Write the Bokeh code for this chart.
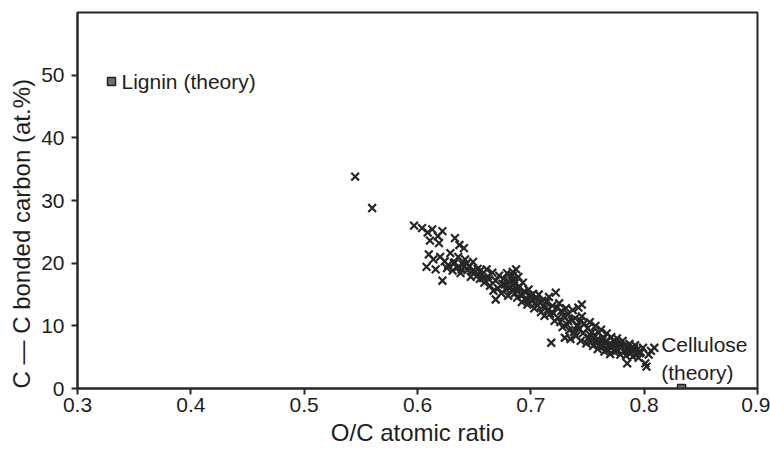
from bokeh.plotting import figure
from bokeh.models import FixedTicker, ColumnDataSource, Label, Title
from bokeh.embed import file_html
from bokeh.resources import INLINE

# measured samples (O/C atomic ratio, C-C bonded carbon at.%)
oc_ratio = [
    0.545, 0.560,
    0.597, 0.604, 0.609, 0.613, 0.618, 0.622, 0.611, 0.619, 0.633, 0.637, 0.641,
    0.610, 0.614, 0.608, 0.616, 0.620, 0.622, 0.624, 0.627, 0.629, 0.631, 0.633,
    0.635, 0.636, 0.638, 0.640, 0.642, 0.644, 0.646, 0.647, 0.649,
    0.651, 0.653, 0.655, 0.657, 0.659, 0.661, 0.662, 0.664, 0.666, 0.667, 0.669,
    0.671, 0.672, 0.674, 0.676, 0.677, 0.679, 0.680, 0.681, 0.682, 0.683, 0.684,
    0.685, 0.686, 0.687, 0.688, 0.689, 0.690, 0.691, 0.692, 0.693, 0.694, 0.695,
    0.697, 0.698, 0.699, 0.669, 0.687, 0.684,
    0.701, 0.702, 0.703, 0.705, 0.706, 0.707, 0.709, 0.710, 0.711, 0.712, 0.714,
    0.715, 0.716, 0.717, 0.718, 0.719, 0.720, 0.721, 0.722, 0.723, 0.724, 0.725,
    0.726, 0.727, 0.728, 0.729, 0.730, 0.731, 0.732, 0.733, 0.734, 0.735, 0.736,
    0.737, 0.738, 0.739, 0.740, 0.741, 0.742, 0.743, 0.744, 0.745, 0.746, 0.747,
    0.745, 0.749,
    0.750, 0.751, 0.752, 0.753, 0.754, 0.755, 0.756, 0.757, 0.758, 0.759, 0.760,
    0.761, 0.762, 0.763, 0.764, 0.765, 0.766, 0.767, 0.768, 0.769, 0.770, 0.771,
    0.772, 0.773, 0.774, 0.775, 0.776, 0.777, 0.778, 0.779, 0.780, 0.781, 0.782,
    0.783, 0.784, 0.785, 0.786, 0.787, 0.788, 0.789, 0.790, 0.791, 0.792, 0.793,
    0.794, 0.795, 0.797, 0.799, 0.801, 0.802, 0.804, 0.806, 0.809,
    0.626, 0.632, 0.639, 0.643, 0.648, 0.652, 0.656, 0.658, 0.663,
    0.675, 0.678, 0.683, 0.686, 0.689, 0.692, 0.696, 0.700, 0.704,
    0.708, 0.713, 0.733, 0.741, 0.744, 0.752, 0.758, 0.763, 0.768,
    0.771, 0.775, 0.779, 0.783, 0.787, 0.791, 0.796,
]
cc_carbon = [
    33.8, 28.8,
    26.0, 25.6, 24.9, 25.4, 24.3, 25.1, 23.6, 23.2, 24.0, 22.9, 22.4,
    21.4, 20.6, 19.4, 19.0, 21.0, 17.2, 20.3, 19.7, 21.6, 18.8, 20.1,
    19.3, 21.0, 18.4, 19.8, 20.6, 18.9, 19.5, 17.8, 20.2,
    18.6, 19.1, 17.5, 18.2, 16.9, 19.0, 17.9, 16.4, 18.5, 15.6, 17.2,
    16.0, 18.0, 15.2, 17.5, 16.6, 18.4, 14.8, 17.0, 16.2, 15.6, 18.0,
    17.4, 16.8, 15.9, 14.5, 17.8, 16.3, 15.0, 13.8, 16.9, 15.5, 14.2,
    13.4, 15.8, 14.7, 14.2, 19.0, 18.6,
    13.9, 15.1, 12.8, 14.4, 13.3, 15.0, 12.2, 14.0, 13.1, 11.6, 13.8,
    12.6, 14.6, 11.9, 7.3, 13.2, 12.0, 10.8, 15.3, 12.9, 11.3, 13.6,
    10.6, 12.4, 9.8, 11.6, 8.1, 12.8, 10.2, 11.9, 9.3, 7.9, 10.9,
    12.5, 9.0, 11.2, 8.4, 10.1, 12.9, 9.5, 7.6, 11.5, 8.8, 10.4,
    13.4, 7.2,
    9.6, 8.1, 10.6, 7.4, 9.0, 6.8, 8.5, 10.0, 7.7, 6.3, 8.9,
    7.1, 9.4, 6.6, 8.0, 5.9, 7.5, 8.8, 6.2, 7.0, 5.5, 8.2,
    6.7, 7.6, 5.8, 6.9, 8.0, 6.1, 7.2, 5.4, 6.6, 7.6, 5.9,
    6.8, 5.2, 4.0, 6.3, 7.1, 5.6, 6.5, 5.1, 6.0, 6.9, 5.4,
    6.2, 4.9, 5.8, 6.5, 4.0, 3.5, 5.4, 6.0, 6.5,
    19.2, 20.0, 19.0, 19.9, 18.7, 17.9, 18.9, 17.6, 17.4,
    16.7, 15.8, 17.2, 15.2, 16.0, 14.8, 14.4, 14.9, 13.6,
    13.7, 12.9, 10.7, 9.9, 10.8, 8.6, 7.2, 7.6, 6.9,
    7.0, 6.2, 6.8, 6.1, 5.9, 6.4, 5.6,
]

# theoretical reference compounds
theory_names = ["Lignin (theory)", "Cellulose (theory)"]
theory_oc = [0.33, 0.833]
theory_cc = [49.0, 0.0]

x_ticks = [0.3, 0.4, 0.5, 0.6, 0.7, 0.8, 0.9]
y_ticks = [0, 10, 20, 30, 40, 50]

FONT = "Liberation Sans"
DARK = "#262626"
TXT = "#1e1e1e"

p = figure(width=770, height=453, x_range=(0.3, 0.9), y_range=(0, 60),
           output_backend="svg", toolbar_location=None,
           min_border_left=77, min_border_right=13, min_border_top=12,
           min_border_bottom=65)
p.background_fill_color = "white"
p.border_fill_color = "white"
p.grid.visible = False
p.outline_line_color = DARK
p.outline_line_width = 2

for ax in (p.xaxis[0], p.yaxis[0]):
    ax.axis_line_color = DARK
    ax.axis_line_width = 2
    ax.major_tick_line_color = DARK
    ax.major_tick_line_width = 2
    ax.major_tick_in = 0
    ax.major_tick_out = 6
    ax.minor_tick_line_color = None
    ax.major_label_text_font = FONT
    ax.major_label_text_font_size = "21px"
    ax.major_label_text_color = TXT
    ax.axis_label_text_font = FONT
    ax.axis_label_text_font_size = "24px"
    ax.axis_label_text_font_style = "normal"
    ax.axis_label_text_color = TXT

p.xaxis.ticker = FixedTicker(ticks=x_ticks)
p.yaxis.ticker = FixedTicker(ticks=y_ticks)
p.xaxis.axis_label = "O/C atomic ratio"
p.xaxis.major_label_standoff = 3
p.xaxis.axis_label_standoff = 4
p.yaxis.major_label_standoff = 7

# y-axis title, anchored toward the bottom as in the original
ytitle = Title(text="C \u2014 C bonded carbon (at.%)", align="left",
               text_font=FONT, text_font_size="24px", text_font_style="normal",
               text_color=TXT, standoff=8)
p.add_layout(ytitle, "left")

src = ColumnDataSource(data=dict(x=oc_ratio, y=cc_carbon))
p.scatter("x", "y", source=src, marker="x", size=11, line_color=DARK,
          line_width=2.2)

tsrc = ColumnDataSource(data=dict(x=theory_oc, y=theory_cc, name=theory_names))
p.scatter("x", "y", source=tsrc, marker="square", size=8, fill_color="#707070",
          line_color="#222222", line_width=1.5)

p.add_layout(Label(x=theory_oc[0], y=theory_cc[0], x_offset=10, text=theory_names[0],
                   text_font=FONT, text_font_size="21px", text_color=TXT,
                   text_baseline="middle"))
p.add_layout(Label(x=0.815, y=7.1, text="Cellulose",
                   text_font=FONT, text_font_size="21px", text_color=TXT,
                   text_baseline="middle"))
p.add_layout(Label(x=0.815, y=2.6, text="(theory)",
                   text_font=FONT, text_font_size="21px", text_color=TXT,
                   text_baseline="middle"))

open("out.html", "w").write(file_html(p, INLINE))
